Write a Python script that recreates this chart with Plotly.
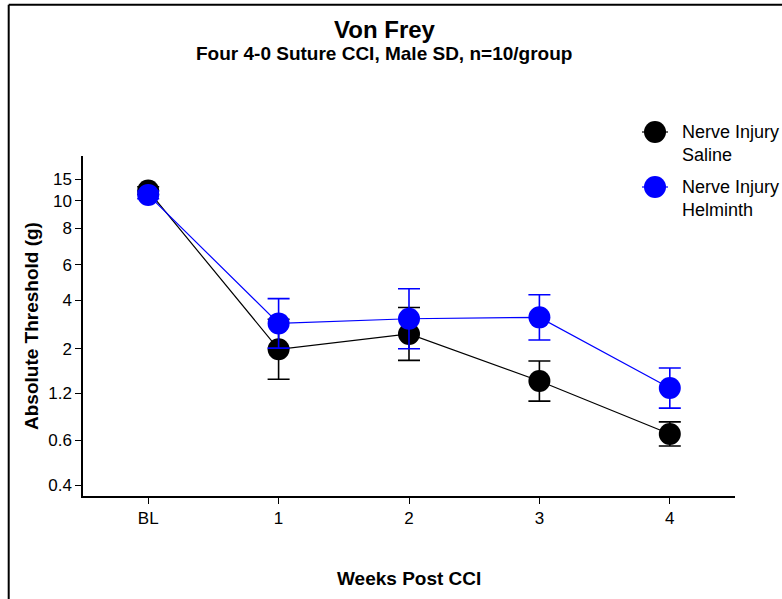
import plotly.graph_objects as go

# ---- data (y in von Frey filament evaluator units; labelled in grams) ----
weeks = ["BL", "1", "2", "3", "4"]
saline = [5.122, 4.307, 4.386, 4.144, 3.872]
saline_err = [0.02, 0.154, 0.136, 0.103, 0.062]
helminth = [5.100, 4.440, 4.464, 4.471, 4.108]
helminth_err = [0.02, 0.127, 0.154, 0.116, 0.103]
tick_pos = [3.61, 3.84, 4.08, 4.31, 4.56, 4.74, 4.93, 5.07, 5.18]
tick_labels = ["0.4", "0.6", "1.2", "2", "4", "6", "8", "10", "15"]
series_names = ["Nerve Injury<br>Saline", "Nerve Injury<br>Helminth"]
series_colors = ["black", "#0000ff"]

FONT = "Liberation Sans, Arial, sans-serif"

fig = go.Figure()
for vals, errs, col, name in [(saline, saline_err, series_colors[0], series_names[0]),
                              (helminth, helminth_err, series_colors[1], series_names[1])]:
    fig.add_trace(go.Scatter(
        x=weeks, y=vals, mode="lines+markers", name=name,
        line=dict(color=col, width=1.2),
        marker=dict(color=col, size=22, line=dict(width=0)),
        error_y=dict(type="data", array=errs, visible=True, color=col,
                     thickness=1.6, width=11),
        cliponaxis=False, showlegend=False,
    ))

# plot area geometry (pixels) used for paper-coordinate placement
L, R, T, B = 83, 735, 156, 496
W, H = R - L, B - T
def px(x):
    return (x - L) / W
def py(y):
    return (B - y) / H

annotations = [
    dict(text="<b>Von Frey</b>", x=px(385), y=py(29), xref="paper", yref="paper",
         showarrow=False, xanchor="center", yanchor="middle",
         font=dict(family=FONT, size=24, color="black")),
    dict(text="<b>Four 4-0 Suture CCI, Male SD, n=10/group</b>", x=px(384), y=py(54),
         xref="paper", yref="paper", showarrow=False, xanchor="center", yanchor="middle",
         font=dict(family=FONT, size=19, color="black")),
    dict(text="<b>Weeks Post CCI</b>", x=px(409), y=py(578), xref="paper", yref="paper",
         showarrow=False, xanchor="center", yanchor="middle",
         font=dict(family=FONT, size=19, color="black")),
    dict(text="<b>Absolute Threshold (g)</b>", x=px(31), y=py(326), xref="paper", yref="paper",
         showarrow=False, xanchor="center", yanchor="middle", textangle=-90,
         font=dict(family=FONT, size=19, color="black")),
]

shapes = [
    # outer frame (top and left visible)
    dict(type="line", xref="paper", yref="paper", x0=px(8.7), x1=px(800), y0=py(4.8), y1=py(4.8),
         line=dict(color="black", width=2)),
    dict(type="line", xref="paper", yref="paper", x0=px(8.7), x1=px(8.7), y0=py(4.8), y1=py(700),
         line=dict(color="black", width=2)),
]

# manual legend
leg_y = [132, 187]
for i, (name, col) in enumerate(zip(series_names, series_colors)):
    yc = py(leg_y[i])
    shapes.append(dict(type="line", xref="paper", yref="paper", xsizemode="pixel",
                       xanchor=px(655), x0=-13, x1=13, y0=yc, y1=yc,
                       line=dict(color=col, width=1.2)))
    shapes.append(dict(type="circle", xref="paper", yref="paper",
                       xsizemode="pixel", ysizemode="pixel",
                       xanchor=px(655), yanchor=yc, x0=-11, x1=11, y0=-11, y1=11,
                       fillcolor=col, line=dict(width=0)))
    annotations.append(dict(text=name, x=px(680), y=py(leg_y[i] - 12), xref="paper", yref="paper",
                            showarrow=False, xanchor="left", yanchor="top", align="left",
                            font=dict(family=FONT, size=18, color="black")))

fig.update_layout(
    width=782, height=599,
    margin=dict(l=L, r=782 - R, t=T, b=599 - B),
    paper_bgcolor="white", plot_bgcolor="white",
    font=dict(family=FONT, size=17, color="black"),
    showlegend=False,
    annotations=annotations, shapes=shapes,
    xaxis=dict(type="category", range=[-0.5, 4.5], showline=True, linecolor="black",
               linewidth=1.5, ticks="outside", ticklen=6, tickcolor="black", tickwidth=1.2,
               showgrid=False, zeroline=False,
               tickfont=dict(family=FONT, size=17, color="black")),
    yaxis=dict(range=[3.5535, 5.2998], showline=True, linecolor="black", linewidth=1.5,
               ticks="outside", ticklen=6, tickcolor="black", tickwidth=1.2,
               tickvals=tick_pos, ticktext=tick_labels, showgrid=False, zeroline=False,
               tickfont=dict(family=FONT, size=17, color="black")),
)

fig.write_html("out.html", config={"displayModeBar": False},
               post_script="document.body.style.margin='0';document.body.style.overflow='hidden';")
